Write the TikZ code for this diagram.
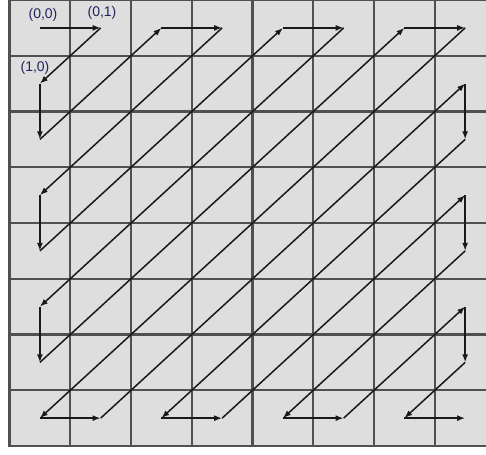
\documentclass[tikz,border=0pt]{standalone}
\usepackage{fontspec}
\setmainfont{Liberation Sans}
\usetikzlibrary{arrows.meta}
\definecolor{cellfill}{HTML}{DEDEDE}
\definecolor{gridcol}{HTML}{505050}
\definecolor{labcol}{HTML}{222260}
\tikzset{
  arr/.style={line width=1.5pt, black!90, -{Latex[length=8pt,width=6pt]}},
  gridline/.style={line width=2.2pt, gridcol},
  lab/.style={text=labcol, font=\fontsize{14}{15}\selectfont, inner sep=0pt}
}
\begin{document}
\begin{tikzpicture}[x=1pt,y=-1pt]
\useasboundingbox (0,0) rectangle (486,454);
\fill[white] (0,0) rectangle (486,454);
\begin{scope}
\clip (0,0) rectangle (486,454);
\fill[cellfill] (9.5,0) rectangle (495.5,446);
\foreach \i in {0,...,8} {
  \draw[gridline] (9.5+60.75*\i,-2) -- (9.5+60.75*\i,447.1);
  \draw[gridline] (8.4,55.75*\i) -- (497,55.75*\i);
}
\end{scope}
% cell centres
\foreach \r in {0,...,7} {
  \foreach \c in {0,...,7} {
    \coordinate (c-\r-\c) at ({39.9+60.75*\c},{27.9+55.75*\r});
  }
}
\foreach \a/\b in {0-0/0-1, 0-1/1-0, 1-0/2-0, 2-0/0-2, 0-2/0-3, 0-3/3-0, 3-0/4-0,
  4-0/0-4, 0-4/0-5, 0-5/5-0, 5-0/6-0, 6-0/0-6, 0-6/0-7, 0-7/7-0, 7-0/7-1,
  7-1/1-7, 1-7/2-7, 2-7/7-2, 7-2/7-3, 7-3/3-7, 3-7/4-7, 4-7/7-4, 7-4/7-5,
  7-5/5-7, 5-7/6-7, 6-7/7-6, 7-6/7-7} {
  \draw[arr] (c-\a) -- (c-\b);
}
\node[lab] (l00) at (43,15) {(0,0)};
\node[lab] (l01) at (102,13) {(0,1)};
\node[lab] (l10) at (35,68) {(1,0)};
\end{tikzpicture}
\end{document}
